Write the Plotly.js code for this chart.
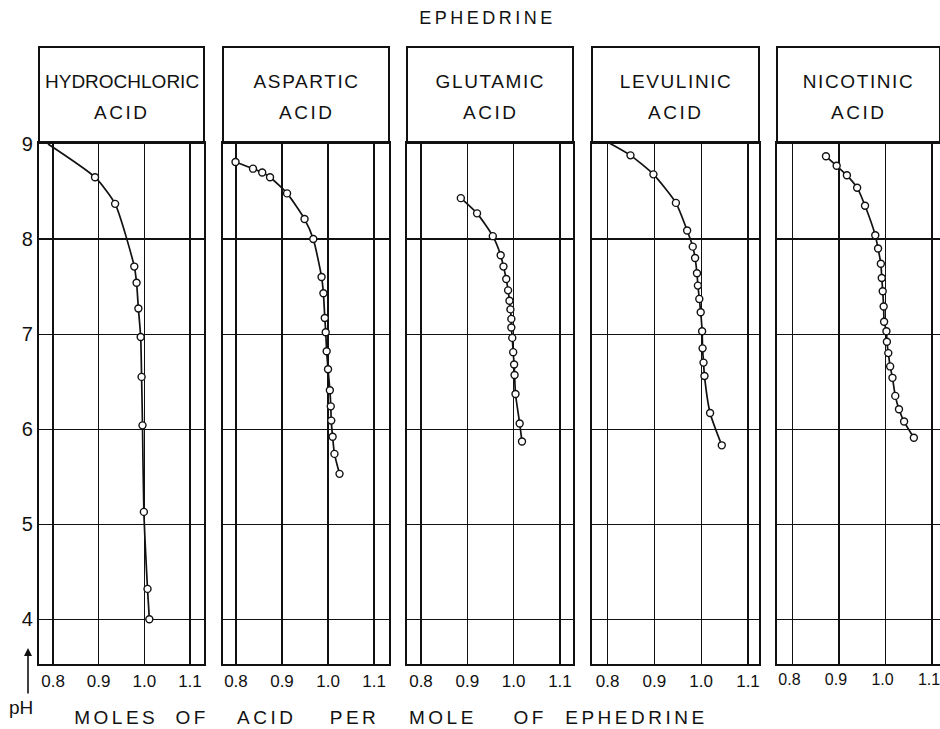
<!DOCTYPE html>
<html><head><meta charset="utf-8">
<script src="https://cdn.plot.ly/plotly-3.0.1.min.js"></script>
<style>html,body{margin:0;padding:0;background:#fff}#chart{width:940px;height:729px}</style>
</head><body><div id="chart"></div><script>
// ---- data ----
const panelNames = ['HYDROCHLORIC', 'ASPARTIC', 'GLUTAMIC', 'LEVULINIC', 'NICOTINIC'];
const panelSecondLine = ['ACID', 'ACID', 'ACID', 'ACID', 'ACID'];
const xTickVals = [0.8, 0.9, 1.0, 1.1];
const xTickText = ['0.8', '0.9', '1.0', '1.1'];
const yTickVals = [4, 5, 6, 7, 8, 9];
const yTickText = ['4', '5', '6', '7', '8', '9'];
const axisWords = ['MOLES', 'OF', 'ACID', 'PER', 'MOLE', 'OF', 'EPHEDRINE'];
const chartTitle = 'EPHEDRINE';
const yLabel = 'pH';

// hydrochloric acid: curve lead-in (no marker) then measured points
const hclLeadX = [0.789];
const hclLeadPH = [9.0];
const hclX = [0.892, 0.936, 0.978, 0.983, 0.987, 0.992, 0.994, 0.996, 0.999, 1.007, 1.011];
const hclPH = [8.65, 8.37, 7.71, 7.54, 7.27, 6.97, 6.55, 6.04, 5.13, 4.32, 4.00];

const aspX = [0.799, 0.837, 0.857, 0.874, 0.911, 0.949, 0.968, 0.986, 0.990, 0.993, 0.995, 0.997, 1.000, 1.004, 1.006, 1.007, 1.010, 1.014, 1.025];
const aspPH = [8.81, 8.74, 8.70, 8.65, 8.48, 8.21, 8.00, 7.60, 7.43, 7.17, 7.02, 6.82, 6.63, 6.41, 6.24, 6.09, 5.92, 5.74, 5.53];

const gluX = [0.886, 0.921, 0.955, 0.972, 0.978, 0.984, 0.988, 0.991, 0.993, 0.995, 0.995, 0.997, 0.999, 1.001, 1.002, 1.004, 1.013, 1.018];
const gluPH = [8.43, 8.27, 8.03, 7.83, 7.71, 7.58, 7.46, 7.35, 7.26, 7.16, 7.07, 6.96, 6.81, 6.68, 6.57, 6.37, 6.06, 5.87];

const levX = [0.800, 0.849, 0.898, 0.946, 0.970, 0.982, 0.987, 0.991, 0.993, 0.996, 0.999, 1.002, 1.003, 1.005, 1.007, 1.019, 1.044];
const levPH = [9.02, 8.88, 8.68, 8.38, 8.09, 7.92, 7.80, 7.64, 7.51, 7.37, 7.23, 7.03, 6.85, 6.70, 6.56, 6.17, 5.83];

const nicX = [0.872, 0.895, 0.917, 0.939, 0.956, 0.978, 0.984, 0.990, 0.992, 0.994, 0.996, 0.997, 1.002, 1.003, 1.006, 1.010, 1.015, 1.021, 1.029, 1.040, 1.061];
const nicPH = [8.87, 8.77, 8.67, 8.54, 8.35, 8.04, 7.90, 7.74, 7.59, 7.45, 7.29, 7.13, 7.03, 6.92, 6.80, 6.66, 6.54, 6.35, 6.21, 6.08, 5.91];

// ---- layout geometry (pixels of the 940x729 canvas) ----
const W = 940, H = 729;
const px = x => x / W;
const py = y => 1 - y / H;
const panelLeft = [39, 223, 407, 592, 777];
const panelRight = [204, 389, 573, 759, 940];
const xRanges = [[0.7693, 1.1307], [0.7718, 1.1325], [0.7698, 1.1281], [0.7668, 1.1235], [0.7667, 1.1172]];
const labelShift = [0, 0, 0, 0, -3];
const plotTop = 143, plotBottom = 664, headTop = 47;
const yRange = [3.53, 9.01];
const FONT = 'Liberation Sans, Arial, sans-serif';

const series = [
  {lineX: hclLeadX.concat(hclX), lineY: hclLeadPH.concat(hclPH), x: hclX, y: hclPH},
  {lineX: aspX, lineY: aspPH, x: aspX, y: aspPH},
  {lineX: gluX, lineY: gluPH, x: gluX, y: gluPH},
  {lineX: levX, lineY: levPH, x: levX, y: levPH},
  {lineX: nicX, lineY: nicPH, x: nicX, y: nicPH}
];

const traces = [];
const layout = {
  width: W, height: H,
  margin: {l: 0, r: 0, t: 0, b: 0},
  paper_bgcolor: '#fff', plot_bgcolor: '#fff',
  showlegend: false,
  font: {family: FONT, color: '#111'},
  shapes: [], annotations: []
};
const spacing = []; // letter-spacing per annotation index

function addAnn(a, ls) { layout.annotations.push(a); spacing.push(ls || 0); }

series.forEach((s, i) => {
  const n = i === 0 ? '' : String(i + 1);
  traces.push({
    x: s.lineX, y: s.lineY, xaxis: 'x' + n, yaxis: 'y' + n,
    mode: 'lines', type: 'scatter', cliponaxis: false,
    line: {color: '#111', width: 1.7, shape: 'spline', smoothing: 0.6},
    hoverinfo: 'skip'
  });
  traces.push({
    x: s.x, y: s.y, xaxis: 'x' + n, yaxis: 'y' + n,
    mode: 'markers', type: 'scatter', cliponaxis: false,
    marker: {symbol: 'circle', size: 7, color: '#fff', line: {color: '#111', width: 1.4}}
  });
  layout['xaxis' + n] = {
    domain: [px(panelLeft[i]), px(panelRight[i])],
    range: xRanges[i], anchor: 'y' + n,
    tickmode: 'array', tickvals: xTickVals, ticktext: xTickText,
    ticklabeloverflow: 'allow', ticklabelshift: labelShift[i],
    ticks: '', showgrid: true, gridcolor: '#111', gridwidth: 1.2,
    showline: true, mirror: true, linecolor: '#111', linewidth: 2.2,
    zeroline: false, tickfont: {family: FONT, size: i === 4 ? 16 : 17, color: '#111'}
  };
  layout['yaxis' + n] = {
    domain: [py(plotBottom), py(plotTop)],
    range: yRange, anchor: 'x' + n,
    tickmode: 'array', tickvals: yTickVals, ticktext: yTickText,
    showticklabels: i === 0,
    ticks: '', showgrid: true, gridcolor: '#111', gridwidth: 1.2,
    showline: true, mirror: true, linecolor: '#111', linewidth: 2.2,
    zeroline: false, tickfont: {family: FONT, size: 20, color: '#111'}
  };
  // header box
  layout.shapes.push({
    type: 'rect', xref: 'paper', yref: 'paper', layer: 'below',
    x0: px(panelLeft[i]), x1: px(panelRight[i]), y0: py(plotTop), y1: py(headTop),
    line: {color: '#111', width: 2}, fillcolor: 'rgba(0,0,0,0)'
  });
  const cx = px((panelLeft[i] + panelRight[i]) / 2);
  addAnn({
    xref: 'paper', yref: 'paper', x: cx, y: py(81), xanchor: 'center', yanchor: 'middle',
    text: panelNames[i], showarrow: false, font: {family: FONT, size: 19, color: '#111'}
  }, i === 0 ? 0 : 1.6);
  addAnn({
    xref: 'paper', yref: 'paper', x: cx, y: py(112), xanchor: 'center', yanchor: 'middle',
    text: panelSecondLine[i], showarrow: false, font: {family: FONT, size: 19, color: '#111'}
  }, 2.5);
});

// title
addAnn({
  xref: 'paper', yref: 'paper', x: px(487), y: py(18), xanchor: 'center', yanchor: 'middle',
  text: chartTitle, showarrow: false, font: {family: FONT, size: 18, color: '#111'}
}, 3.5);
// x-axis title words (widely spaced lettering)
const wordCenters = [116, 192, 266, 354, 443, 530, 636];
axisWords.forEach((w, k) => {
  addAnn({
    xref: 'paper', yref: 'paper', x: px(wordCenters[k]), y: py(717), xanchor: 'center', yanchor: 'middle',
    text: w, showarrow: false, font: {family: FONT, size: 19, color: '#111'}
  }, 3.5);
});
// pH label and arrow
addAnn({
  xref: 'paper', yref: 'paper', x: px(21), y: py(707), xanchor: 'center', yanchor: 'middle',
  text: yLabel, showarrow: false, font: {family: FONT, size: 19, color: '#111'}
}, 0);
addAnn({
  xref: 'paper', yref: 'paper', x: px(28), y: py(648), text: '',
  showarrow: true, arrowhead: 2, arrowsize: 1, arrowwidth: 1.6, arrowcolor: '#111',
  axref: 'pixel', ayref: 'pixel', ax: 0, ay: 47
}, 0);

Plotly.newPlot('chart', traces, layout, {staticPlot: true, displayModeBar: false}).then(gd => {
  spacing.forEach((ls, k) => {
    if (!ls) return;
    const t = gd.querySelector('g.annotation[data-index="' + k + '"] text.annotation-text');
    if (t) t.style.letterSpacing = ls + 'px';
  });
});
</script></body></html>
